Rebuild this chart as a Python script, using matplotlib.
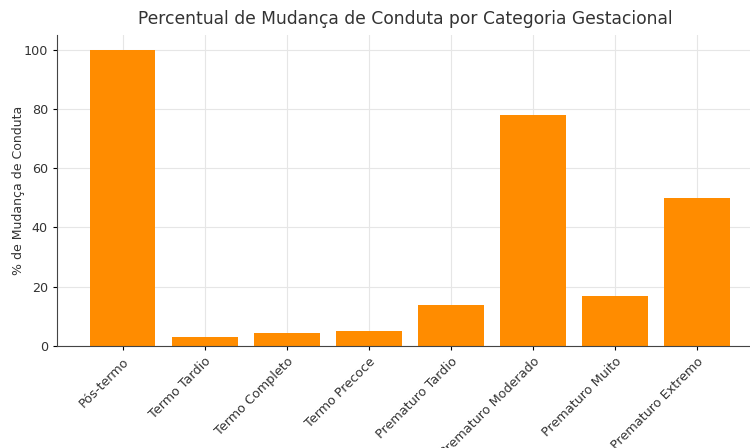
import matplotlib
matplotlib.use("Agg")
import matplotlib.pyplot as plt

categories = ["Pós-termo", "Termo Tardio", "Termo Completo", "Termo Precoce",
              "Prematuro Tardio", "Prematuro Moderado", "Prematuro Muito", "Prematuro Extremo"]
values = [100, 3.0, 4.3, 5.1, 13.9, 77.8, 16.7, 50.0]

fig = plt.figure(figsize=(7.5, 4.48), dpi=100)
ax = fig.add_axes([0.076, 0.228, 0.93, 0.694])
x = list(range(len(categories)))
ax.bar(x, values, width=0.8, color="#FF8C00", zorder=2)
ax.set_xticks(x)
ax.set_xticklabels(categories, rotation=45, ha="right", rotation_mode="anchor", fontsize=9.2, color="#333333")
ax.set_xlim(-0.8, 7.7)
ax.set_ylim(0, 105)
ax.set_yticks([0, 20, 40, 60, 80, 100])
ax.tick_params(axis="y", labelsize=9.2, labelcolor="#333333", length=3)
ax.tick_params(axis="x", length=3)
ax.grid(True, color="#e6e6e6", linewidth=0.8, zorder=0)
ax.set_axisbelow(True)
for s in ["top", "right"]:
    ax.spines[s].set_visible(False)
for s in ["left", "bottom"]:
    ax.spines[s].set_color("#444444")
ax.set_ylabel("% de Mudança de Conduta", fontsize=9, color="#333333", labelpad=-1)
ax.set_title("Percentual de Mudança de Conduta por Categoria Gestacional", fontsize=12.3, color="#333333", pad=8)
fig.savefig("out.png", dpi=100)
